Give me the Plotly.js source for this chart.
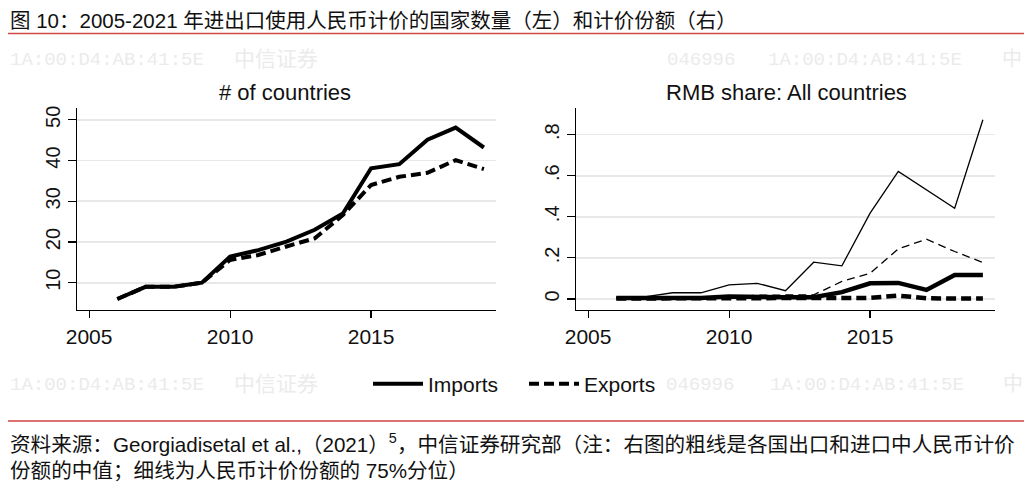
<!DOCTYPE html>
<html>
<head>
<meta charset="utf-8">
<script src="https://cdn.plot.ly/plotly-3.0.1.min.js"></script>
<style>
  html, body { margin: 0; padding: 0; background: #fff; }
  #chart { width: 1024px; height: 497px; }
</style>
</head>
<body>
<div id="chart"></div>
<script>
var years = [2006, 2007, 2008, 2009, 2010, 2011, 2012, 2013, 2014, 2015, 2016, 2017, 2018, 2019];

// left panel: number of countries
var importCountries = [6, 9, 9, 10, 16.4, 18, 20.1, 23, 27, 38.1, 39.1, 45.1, 48.1, 43.2];
var exportCountries = [6, 9, 9, 10, 15.6, 16.8, 18.9, 20.9, 26.6, 34, 36, 37, 40.1, 37.9];

// right panel: RMB share, median (thick) and 75th percentile (thin)
var importMedian = [0.005, 0.005, 0.005, 0.005, 0.012, 0.008, 0.008, 0.008, 0.033, 0.076, 0.078, 0.044, 0.117, 0.117];
var exportMedian = [0.002, 0.002, 0.002, 0.002, 0.006, 0.003, 0.003, 0.003, 0.003, 0.005, 0.016, 0.003, 0.002, 0.002];
var importP75 = [0.006, 0.01, 0.03, 0.03, 0.068, 0.076, 0.04, 0.179, 0.161, 0.418, 0.621, 0.532, 0.442, 0.873];
var exportP75 = [0.006, 0.006, 0.01, 0.01, 0.01, 0.018, 0.02, 0.02, 0.085, 0.125, 0.244, 0.291, 0.231, 0.177];

var xTicks = [2005, 2010, 2015];
var leftYTicks = [10, 20, 30, 40, 50];
var rightYTicks = [0, 0.2, 0.4, 0.6, 0.8];
var rightYTickText = ["0", ".2", ".4", ".6", ".8"];

var FONT = "Liberation Sans, Arial, Noto Sans CJK SC, sans-serif";
var W = 1024, H = 497;

var px = function(x) { return x / W; };
var py = function(y) { return 1 - y / H; };

var lineTrace = function(y, name, xa, ya, width, dash, legend) {
  return {
    type: 'scatter',
    mode: 'lines',
    x: years,
    y: y,
    name: name,
    xaxis: xa,
    yaxis: ya,
    showlegend: legend,
    line: { color: '#000', width: width, dash: dash }
  };
};

var data = [
  lineTrace(importCountries, 'Imports', 'x', 'y', 4, 'solid', true),
  lineTrace(exportCountries, 'Exports', 'x', 'y', 4, '10px,5px', true),
  lineTrace(importP75, 'Imports p75', 'x2', 'y2', 1.3, 'solid', false),
  lineTrace(exportP75, 'Exports p75', 'x2', 'y2', 1.3, '8px,5px', false),
  lineTrace(exportMedian, 'Exports median', 'x2', 'y2', 4.5, '10px,5px', false),
  lineTrace(importMedian, 'Imports median', 'x2', 'y2', 4.5, 'solid', false)
];

var xAxis = function(domain, anchor) {
  return {
    domain: domain,
    anchor: anchor,
    range: [2004.57, 2019.43],
    tickvals: xTicks,
    ticks: 'outside',
    ticklen: 7,
    tickwidth: 1.2,
    tickcolor: '#000',
    showline: true,
    linecolor: '#000',
    linewidth: 1.3,
    showgrid: false,
    zeroline: false,
    tickfont: { family: FONT, size: 21, color: '#111' }
  };
};

var yAxis = function(range, vals, text, anchor) {
  return {
    domain: [py(310), py(108)],
    anchor: anchor,
    range: range,
    tickvals: vals,
    ticktext: text,
    tickangle: -90,
    ticks: 'outside',
    ticklen: 8,
    tickwidth: 1.2,
    tickcolor: '#000',
    showline: true,
    linecolor: '#000',
    linewidth: 1.3,
    showgrid: true,
    gridcolor: '#e8e8e8',
    gridwidth: 1.6,
    zeroline: false,
    tickfont: { family: FONT, size: 20, color: '#111' }
  };
};

var note = function(text, x, y, size, color, anchor, family) {
  return {
    text: text,
    xref: 'paper', yref: 'paper',
    x: px(x), y: py(y),
    xanchor: anchor || 'left',
    yanchor: 'middle',
    showarrow: false,
    font: { family: family || FONT, size: size, color: color || '#111' }
  };
};

var WM = "Liberation Mono, Noto Sans CJK SC, monospace";
var wmColor = '#ebebeb';

var layout = {
  width: W,
  height: H,
  margin: { l: 0, r: 0, t: 0, b: 0 },
  paper_bgcolor: '#fff',
  plot_bgcolor: '#fff',
  xaxis: xAxis([px(77), px(496)], 'y'),
  yaxis: yAxis([3.3, 52.9], leftYTicks, leftYTicks.map(String), 'x'),
  xaxis2: xAxis([px(576), px(995)], 'y2'),
  yaxis2: yAxis([-0.054, 0.93], rightYTicks, rightYTickText, 'x2'),
  showlegend: true,
  legend: {
    orientation: 'h',
    x: px(368), xanchor: 'left',
    y: py(384), yanchor: 'middle',
    itemwidth: 50,
    entrywidth: 91,
    font: { family: FONT, size: 21, color: '#111' },
    bgcolor: 'rgba(0,0,0,0)'
  },
  shapes: [
    { type: 'line', xref: 'paper', yref: 'paper', x0: px(8), x1: 1, y0: py(33.5), y1: py(33.5),
      line: { color: '#d04a4a', width: 1.5 } },
    { type: 'line', xref: 'paper', yref: 'paper', x0: px(8), x1: 1, y0: py(421), y1: py(421),
      line: { color: '#dd7070', width: 2 } }
  ],
  annotations: [
    // watermark
    note("1A:00:D4:AB:41:5E", 206, 60, 19, wmColor, 'right', WM),
    note("中信证券", 232, 60, 21, wmColor, 'left', WM),
    note("046996", 665, 60, 19, wmColor, 'left', WM),
    note("1A:00:D4:AB:41:5E", 766, 60, 19, wmColor, 'left', WM),
    note("中", 1000, 60, 20, wmColor, 'left', WM),
    note("1A:00:D4:AB:41:5E", 206, 385, 19, wmColor, 'right', WM),
    note("中信证券", 232, 385, 21, wmColor, 'left', WM),
    note("046996", 664, 385, 19, wmColor, 'left', WM),
    note("1A:00:D4:AB:41:5E", 768, 385, 19, wmColor, 'left', WM),
    note("中", 1001, 385, 20, wmColor, 'left', WM),

    note("图 10：2005-2021 年进出口使用人民币计价的国家数量（左）和计价份额（右）", 8, 21, 20.5),
    note("# of countries", 285, 92, 22, '#111', 'center'),
    note("RMB share: All countries", 786, 92, 22, '#111', 'center'),
    note("资料来源：Georgiadisetal et al.,（2021）<sup>5</sup>，中信证券研究部（注：右图的粗线是各国出口和进口中人民币计价", 8, 443, 20.6),
    note("份额的中值；细线为人民币计价份额的 75%分位）", 8, 470, 20.6)
  ]
};

Plotly.newPlot(document.getElementById("chart"), data, layout, { displaylogo: false, displayModeBar: false, staticPlot: true });
</script>
</body>
</html>
